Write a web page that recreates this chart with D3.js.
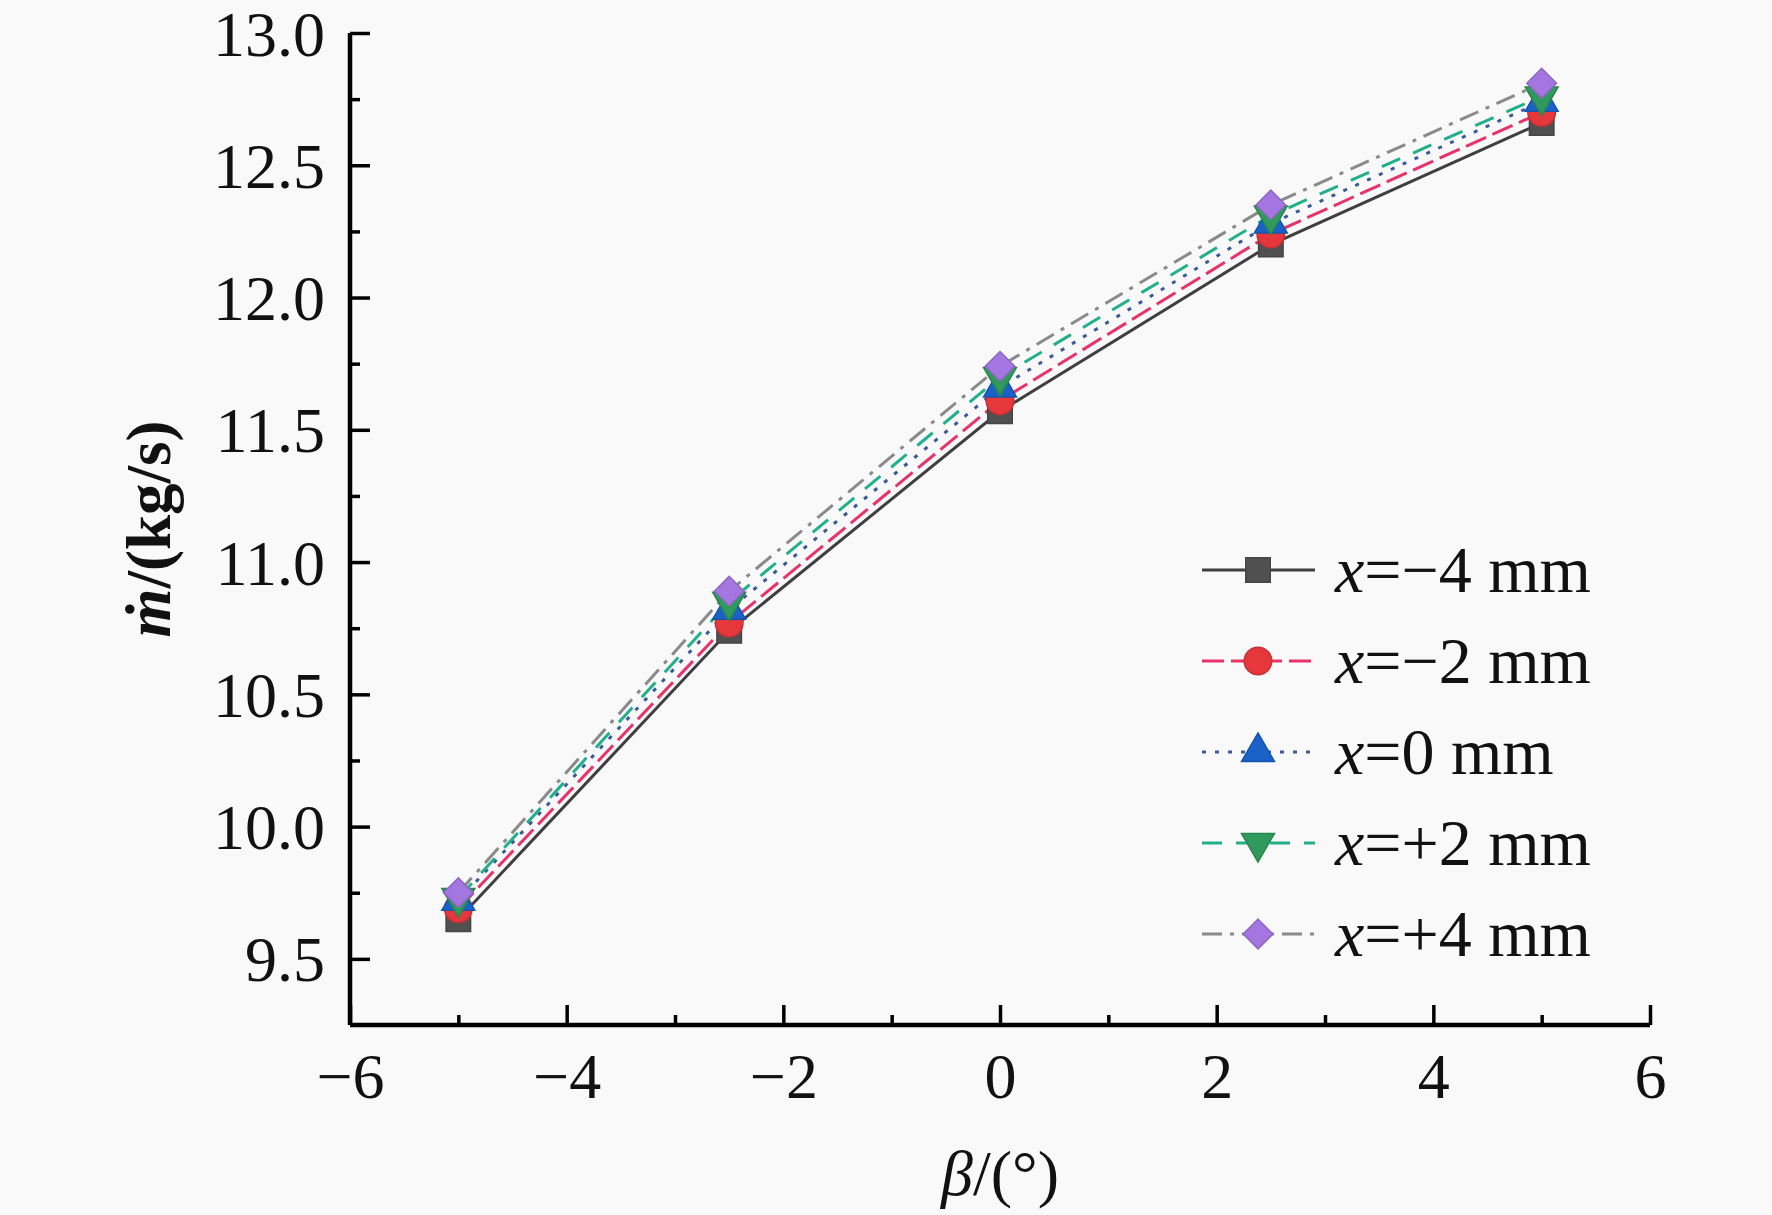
<!DOCTYPE html>
<html>
<head>
<meta charset="utf-8">
<script src="https://cdn.jsdelivr.net/npm/d3@7"></script>
<style>
  body { margin: 0; background: #f9f9f9; }
  svg { display: block; }
  text { font-family: "Liberation Serif", "Times New Roman", serif; fill: #111; }
</style>
</head>
<body>
<svg id="chart" width="1772" height="1215"></svg>
<script>
// beta angles (deg)
const beta = [-5, -2.5, 0, 2.5, 5];

// mass flow (kg/s) for each probe position
const m_minus4 = [9.65, 10.74, 11.57, 12.20, 12.66];
const m_minus2 = [9.69, 10.77, 11.61, 12.24, 12.70];
const m_zero   = [9.72, 10.82, 11.66, 12.28, 12.74];
const m_plus2  = [9.73, 10.85, 11.70, 12.31, 12.76];
const m_plus4  = [9.75, 10.89, 11.74, 12.35, 12.81];

const series_labels = ["=\u22124 mm", "=\u22122 mm", "=0 mm", "=+2 mm", "=+4 mm"];

const x_ticks = [-6, -4, -2, 0, 2, 4, 6];
const y_ticks = [9.5, 10.0, 10.5, 11.0, 11.5, 12.0, 12.5, 13.0];

const series = [
  {values: m_minus4, label: series_labels[0], line: "#3f3f3f", fill: "#505050", dash: null, symbol: d3.symbolSquare, size: 600, rot: 0},
  {values: m_minus2, label: series_labels[1], line: "#e8326a", fill: "#e5373c", dash: "22,7", symbol: d3.symbolCircle, size: 600, rot: 0},
  {values: m_zero, label: series_labels[2], line: "#3a5a9a", fill: "#1a62c8", dash: "4,9", symbol: d3.symbolTriangle, size: 470, rot: 0},
  {values: m_plus2, label: series_labels[3], line: "#22b08a", fill: "#2f9a5c", dash: "20,14", symbol: d3.symbolTriangle, size: 470, rot: 180},
  {values: m_plus4, label: series_labels[4], line: "#8a8a8a", fill: "#a477e0", dash: "20,8,4,8", symbol: d3.symbolSquare, size: 440, rot: 45}
];

const svg = d3.select("#chart");
const margin = {top: 33, right: 122, bottom: 190, left: 350};
const width = +svg.attr("width") - margin.left - margin.right;
const height = +svg.attr("height") - margin.top - margin.bottom;

const x = d3.scaleLinear().domain([-6, 6]).range([0, width]);
const y = d3.scaleLinear().domain([9.25, 13.0]).range([height, 0]);

let g = svg.append("g").attr("transform", "translate(" + margin.left + "," + margin.top + ")");

// minor ticks
const x_minor = d3.range(-5, 6, 2);
const y_minor = d3.range(9.75, 13, 0.5);

g.append("g")
  .attr("transform", "translate(0," + height + ")")
  .call(d3.axisBottom(x).tickValues(x_minor).tickSize(-10).tickFormat(""))
  .call(a => a.select(".domain").remove())
  .call(a => a.selectAll("line").attr("stroke", "#000").attr("stroke-width", 3.5));

g.append("g")
  .call(d3.axisLeft(y).tickValues(y_minor).tickSize(-10).tickFormat(""))
  .call(a => a.select(".domain").remove())
  .call(a => a.selectAll("line").attr("stroke", "#000").attr("stroke-width", 3.5));

// major axes
const xAxis = g.append("g")
  .attr("transform", "translate(0," + height + ")")
  .call(d3.axisBottom(x).tickValues(x_ticks).tickSize(-20).tickPadding(0)
    .tickFormat(d => d < 0 ? "\u2212" + Math.abs(d) : d));
xAxis.select(".domain").attr("stroke", "#000").attr("stroke-width", 4.5).attr("d", "M0,0H" + width);
xAxis.selectAll("line").attr("stroke", "#000").attr("stroke-width", 3.5);
xAxis.selectAll("text")
  .attr("y", 73).attr("dy", 0)
  .style("font-size", "64px").style("font-family", "Liberation Serif").attr("fill", "#111");

const yAxis = g.append("g")
  .call(d3.axisLeft(y).tickValues(y_ticks).tickSize(-20).tickPadding(0)
    .tickFormat(d3.format(".1f")));
yAxis.select(".domain").attr("stroke", "#000").attr("stroke-width", 4.5).attr("d", "M0," + height + "V0");
yAxis.selectAll("line").attr("stroke", "#000").attr("stroke-width", 3.5);
yAxis.selectAll("text")
  .attr("x", -25).attr("dy", 22)
  .style("font-size", "64px").style("font-family", "Liberation Serif").attr("fill", "#111");

// axis titles
svg.append("text")
  .attr("x", margin.left + width / 2)
  .attr("y", 1195)
  .attr("text-anchor", "middle")
  .style("font-size", "64px")
  .call(t => {
    t.append("tspan").attr("font-style", "italic").text("\u03b2");
    t.append("tspan").text("/(\u00b0)");
  });

svg.append("text")
  .attr("transform", "translate(170," + (margin.top + height / 2) + ") rotate(-90)")
  .attr("text-anchor", "middle")
  .style("font-size", "63px")
  .attr("font-weight", "bold")
  .call(t => {
    t.append("tspan").attr("font-style", "italic").text("m\u0307");
    t.append("tspan").text("/(kg/s)");
  });

// lines
const line = d3.line()
  .x((d, i) => x(beta[i]))
  .y(d => y(d));

series.forEach(s => {
  g.append("path")
    .datum(s.values)
    .attr("fill", "none")
    .attr("stroke", s.line)
    .attr("stroke-width", 3)
    .attr("stroke-dasharray", s.dash)
    .attr("d", line);
});

series.forEach(s => {
  g.selectAll(null)
    .data(s.values)
    .enter().append("path")
    .attr("transform", (d, i) => "translate(" + x(beta[i]) + "," + y(d) + ") rotate(" + s.rot + ")")
    .attr("d", d3.symbol().type(s.symbol).size(s.size))
    .attr("fill", s.fill)
    .attr("stroke", d3.color(s.fill).darker(0.4))
    .attr("stroke-width", 1.5);
});

// legend
const legend = svg.append("g").attr("transform", "translate(1202,570)");
series.forEach((s, i) => {
  const row = legend.append("g").attr("transform", "translate(0," + (i * 91) + ")");
  row.append("line")
    .attr("x1", 0).attr("x2", 113).attr("y1", 0).attr("y2", 0)
    .attr("stroke", s.line)
    .attr("stroke-width", 3)
    .attr("stroke-dasharray", s.dash);
  row.append("path")
    .attr("transform", "translate(56,0) rotate(" + s.rot + ")")
    .attr("d", d3.symbol().type(s.symbol).size(s.size))
    .attr("fill", s.fill)
    .attr("stroke", d3.color(s.fill).darker(0.4))
    .attr("stroke-width", 1.5);
  row.append("text")
    .attr("x", 133).attr("y", 22)
    .style("font-size", "66px")
    .call(t => {
      t.append("tspan").attr("font-style", "italic").text("x");
      t.append("tspan").text(s.label);
    });
});
</script>
</body>
</html>
